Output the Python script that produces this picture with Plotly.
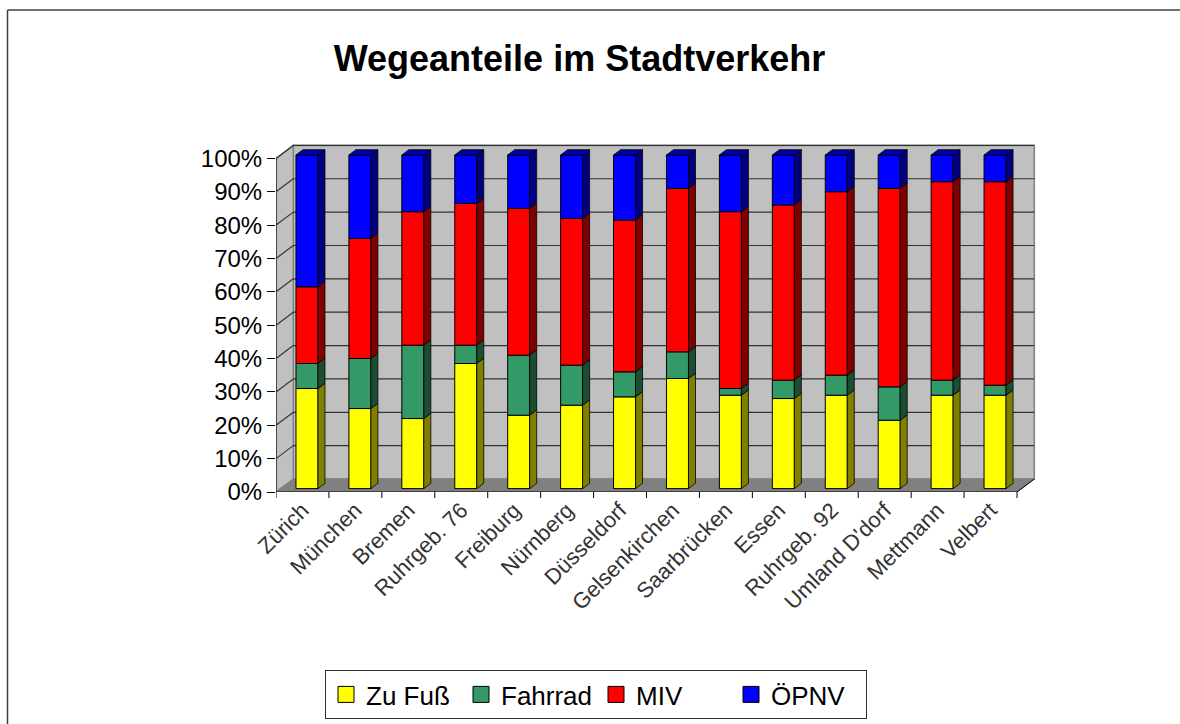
import plotly.graph_objects as go

# ---- data ----
categories = ["Zürich", "München", "Bremen", "Ruhrgeb. 76", "Freiburg", "Nürnberg",
              "Düsseldorf", "Gelsenkirchen", "Saarbrücken", "Essen", "Ruhrgeb. 92",
              "Umland D'dorf", "Mettmann", "Velbert"]
zu_fuss = [30, 24, 21, 37.5, 22, 25, 27.5, 33, 28, 27, 28, 20.5, 28, 28]
fahrrad = [7.5, 15, 22, 5.5, 18, 12, 7.5, 8, 2, 5.5, 6, 10, 4.5, 3]
miv = [23, 36, 40, 42.5, 44, 44, 45.5, 49, 53, 52.5, 55, 59.5, 59.5, 61]
oepnv = [39.5, 25, 17, 14.5, 16, 19, 19.5, 10, 17, 15, 11, 10, 8, 8]
y_ticks = [0, 10, 20, 30, 40, 50, 60, 70, 80, 90, 100]
y_ticktext = [f"{v}%" for v in y_ticks]

series = [
    ("Zu Fuß", zu_fuss, "#FFFF00", "#808000"),
    ("Fahrrad", fahrrad, "#339966", "#1B4D33"),
    ("MIV", miv, "#FF0000", "#800000"),
    ("ÖPNV", oepnv, "#0000FF", "#000080"),
]

# ---- geometry (layout) ----
W, H = 1180, 724
ML, MR, MT, MB = 276, 140, 135, 232
PX_X = 52.93          # pixels per category unit
PX_Y = 3.336          # pixels per percent
XMIN = -0.5
XMAX = XMIN + (W - ML - MR) / PX_X
YMAX = (H - MT - MB) / PX_Y
n = len(categories)
XR = n - 0.5
DX, DY = 17.3 / PX_X, 13.0 / PX_Y       # wall depth
BX, BY = 4.5 / PX_X, 3.4 / PX_Y         # bar front face offset
SDX, SDY = 7.0 / PX_X, 5.3 / PX_Y       # bar side depth
BW = 22 / PX_X                          # bar width

FONT = "Liberation Sans, Arial, sans-serif"

fig = go.Figure()

# front faces
cum = [0.0] * n
for name, vals, col, side in series:
    fig.add_trace(go.Bar(
        x=[i + BX for i in range(n)], y=vals, base=[c + BY for c in cum],
        width=BW, marker=dict(color=col, line=dict(color="black", width=1)),
        showlegend=False, hoverinfo="skip"))
    # side faces
    xs, ys = [], []
    for i in range(n):
        xr = i + BX + BW / 2
        b = cum[i] + BY
        t = cum[i] + vals[i] + BY
        xs += [xr, xr + SDX, xr + SDX, xr, xr, None]
        ys += [b, b + SDY, t + SDY, t, b, None]
    fig.add_trace(go.Scatter(x=xs, y=ys, mode="lines", fill="toself", fillcolor=side,
                             line=dict(color="black", width=0.8), showlegend=False,
                             hoverinfo="skip"))
    cum = [c + v for c, v in zip(cum, vals)]

# top faces
xs, ys = [], []
for i in range(n):
    xl = i + BX - BW / 2
    xr = i + BX + BW / 2
    t = cum[i] + BY
    xs += [xl, xl + SDX, xr + SDX, xr, xl, None]
    ys += [t, t + SDY, t + SDY, t, t, None]
fig.add_trace(go.Scatter(x=xs, y=ys, mode="lines", fill="toself", fillcolor="#0000A8",
                         line=dict(color="black", width=0.8), showlegend=False,
                         hoverinfo="skip"))

# legend proxies
for name, vals, col, side in series:
    fig.add_trace(go.Scatter(x=[None], y=[None], mode="markers", name=name,
                             marker=dict(symbol="square", size=18, color=col,
                                         line=dict(color="black", width=1))))

shapes = []
# back wall
shapes.append(dict(type="rect", xref="x", yref="y", x0=XMIN + DX, x1=XR + DX, y0=DY, y1=100 + DY,
                   fillcolor="#C0C0C0", line=dict(color="#808080", width=1.5), layer="below"))
# left wall
shapes.append(dict(type="path", xref="x", yref="y",
                   path=f"M{XMIN},0 L{XMIN+DX},{DY} L{XMIN+DX},{100+DY} L{XMIN},100 Z",
                   fillcolor="#C0C0C0", line=dict(color="#808080", width=1.5), layer="below"))
# floor
shapes.append(dict(type="path", xref="x", yref="y",
                   path=f"M{XMIN},0 L{XR},0 L{XR+DX},{DY} L{XMIN+DX},{DY} Z",
                   fillcolor="#808080", line=dict(color="#808080", width=1), layer="below"))
# gridlines
for v in y_ticks[1:]:
    shapes.append(dict(type="line", xref="x", yref="y", x0=XMIN + DX, x1=XR + DX,
                       y0=v + DY, y1=v + DY, line=dict(color="#333333", width=1.2), layer="below"))
    shapes.append(dict(type="line", xref="x", yref="y", x0=XMIN, x1=XMIN + DX,
                       y0=v, y1=v + DY, line=dict(color="#333333", width=1.2), layer="below"))
# front axes
shapes.append(dict(type="line", xref="x", yref="y", x0=XMIN, x1=XMIN, y0=0, y1=100,
                   line=dict(color="black", width=1)))
shapes.append(dict(type="line", xref="x", yref="y", x0=XMIN, x1=XR, y0=0, y1=0,
                   line=dict(color="black", width=1)))
shapes.append(dict(type="line", xref="x", yref="y", x0=XR, x1=XR + DX, y0=0, y1=DY,
                   line=dict(color="black", width=1)))
# x tick marks at category boundaries
for k in range(n + 1):
    shapes.append(dict(type="line", xref="x", yref="paper", x0=k - 0.5, x1=k - 0.5,
                       y0=0, y1=-6 / (H - MT - MB), line=dict(color="black", width=1)))
# outer chart border: only left and top edges are visible in the window
pw, ph = W - ML - MR, H - MT - MB
bx0 = (7.5 - ML) / pw
bx1 = (W - ML) / pw
by0 = (H - MB - H) / ph
by1 = (H - MB - 10) / ph
shapes.append(dict(type="line", xref="paper", yref="paper", x0=bx0, x1=bx0, y0=by0, y1=by1,
                   line=dict(color="#404040", width=1.5), layer="below"))
shapes.append(dict(type="line", xref="paper", yref="paper", x0=bx0, x1=bx1, y0=by1, y1=by1,
                   line=dict(color="#404040", width=1.5), layer="below"))

fig.update_layout(
    width=W, height=H,
    margin=dict(l=ML, r=MR, t=MT, b=MB),
    paper_bgcolor="white", plot_bgcolor="white",
    barmode="overlay",
    shapes=shapes,
    font=dict(family=FONT, color="black"),
    title=dict(text="<b>Wegeanteile im Stadtverkehr</b>", font=dict(size=36, family=FONT),
               x=579.5 / W, xref="container", xanchor="center",
               y=1 - 58 / H, yref="container", yanchor="middle"),
    xaxis=dict(range=[XMIN, XMAX], tickmode="array", tickvals=list(range(n)),
               ticktext=categories, tickangle=-45, showgrid=False, zeroline=False,
               showline=False, ticks="", tickfont=dict(size=22, color="#333333")),
    yaxis=dict(range=[0, YMAX], tickmode="array", tickvals=y_ticks, ticktext=y_ticktext,
               showgrid=False, zeroline=False, showline=False, ticks="outside",
               ticklen=8, tickcolor="black", tickfont=dict(size=24, color="black")),
    legend=dict(orientation="h", xref="container", yref="container",
                x=596 / W, xanchor="center", y=1 - 670 / H, yanchor="top",
                bordercolor="#333333", borderwidth=1, bgcolor="white",
                entrywidth=90, entrywidthmode="pixels",
                font=dict(size=26, family=FONT)),
)

fig.write_html("out.html", config={"displayModeBar": False},
               post_script="document.body.style.margin='0';document.body.style.overflow='hidden';")
